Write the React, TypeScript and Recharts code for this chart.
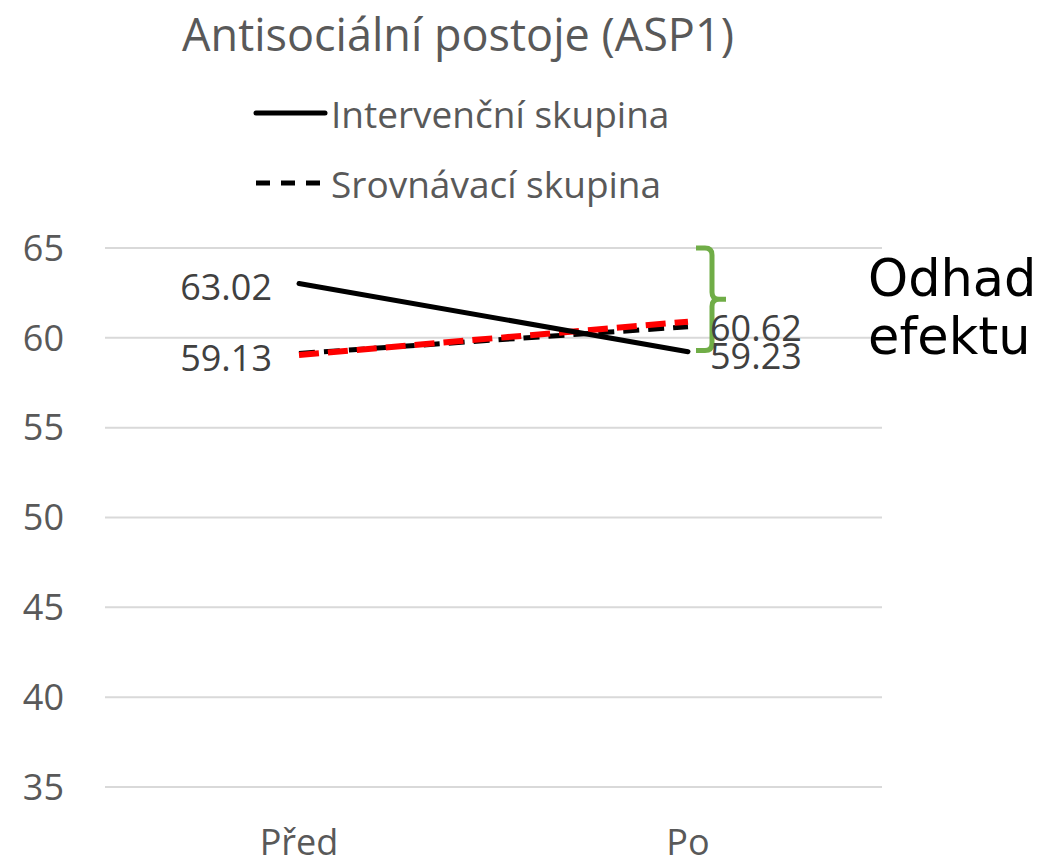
import React from 'react';
import { LineChart, Line, XAxis, YAxis, CartesianGrid, LabelList, ReferenceArea } from 'recharts';

const categories = ['Před', 'Po'];
const interventionValues = [63.02, 59.23];
const comparisonValues = [59.13, 60.62];
const projectedValues = [59.05, 60.9];
const yTicks = [35, 40, 45, 50, 55, 60, 65];
const bracketRange = [59.3, 65];
const seriesNames = ['Intervenční skupina', 'Srovnávací skupina'];

const data = categories.map((c, i) => ({
  cat: c,
  intervence: interventionValues[i],
  srovnani: comparisonValues[i],
  odhad: projectedValues[i],
}));

const FONT = '"Open Sans", sans-serif';

const makeLabel = (offsets: { dx: number; dy: number; anchor: 'start' | 'end' }[]) => (props: any) => {
  const { x, y, value, index } = props;
  const o = offsets[index];
  return (
    <text
      x={x + o.dx}
      y={y + o.dy}
      textAnchor={o.anchor}
      dominantBaseline="central"
      fontFamily={FONT}
      fontSize={36}
      fill="#404040"
    >
      {Number(value).toFixed(2)}
    </text>
  );
};

const solidLabel = makeLabel([
  { dx: -27, dy: 3, anchor: 'end' },
  { dx: 22, dy: 4, anchor: 'start' },
]);
const dashedLabel = makeLabel([
  { dx: -27, dy: 4, anchor: 'end' },
  { dx: 22, dy: 1, anchor: 'start' },
]);

const Bracket = (props: any) => {
  const { x, y, width, height } = props;
  const cx = x + (width || 0) / 2;
  const left = cx + 8;
  const vx = cx + 24;
  const top = y;
  const bottom = y + height;
  const mid = (top + bottom) / 2;
  const r = 7;
  const d = `M${left},${top} L${vx - r},${top} Q${vx},${top} ${vx},${top + r} L${vx},${mid - r} Q${vx},${mid} ${vx + r},${mid} L${vx + 14},${mid} M${vx + r},${mid} Q${vx},${mid} ${vx},${mid + r} L${vx},${bottom - r} Q${vx},${bottom} ${vx - r},${bottom} L${left},${bottom}`;
  return <path d={d} fill="none" stroke="#70AD47" strokeWidth={5} />;
};

export default function App() {
  return (
    <div style={{ position: 'absolute', left: 0, top: 0, width: 1054, height: 858, background: '#fff', overflow: 'hidden' }}>
      <LineChart
        width={1054}
        height={858}
        data={data}
        margin={{ top: 248, right: 172, bottom: 0, left: 0 }}
      >
        <CartesianGrid horizontal vertical={false} stroke="#d9d9d9" strokeWidth={2} />
        <XAxis
          dataKey="cat"
          axisLine={false}
          tickLine={false}
          tickSize={0}
          tickMargin={42}
          height={71}
          padding={{ left: 194, right: 194 }}
          tick={{ fontFamily: FONT, fontSize: 36, fill: '#595959' }}
        />
        <YAxis
          domain={[35, 65]}
          ticks={yTicks}
          axisLine={false}
          tickLine={false}
          tickSize={0}
          tickMargin={41}
          width={105}
          tick={{ fontFamily: FONT, fontSize: 36, fill: '#595959' }}
        />
        <ReferenceArea
          x1="Po"
          x2="Po"
          y1={bracketRange[0]}
          y2={bracketRange[1]}
          shape={Bracket}
          ifOverflow="visible"
        />
        <Line
          dataKey="srovnani"
          name={seriesNames[1]}
          stroke="#000"
          strokeWidth={5}
          strokeDasharray="16 9"
          dot={false}
          activeDot={false}
          isAnimationActive={false}
        >
          <LabelList dataKey="srovnani" content={dashedLabel} />
        </Line>
        <Line
          dataKey="odhad"
          name="odhad"
          legendType="none"
          stroke="#FF0000"
          strokeWidth={6}
          strokeDasharray="20 9"
          dot={false}
          activeDot={false}
          isAnimationActive={false}
        />
        <Line
          dataKey="intervence"
          name={seriesNames[0]}
          stroke="#000"
          strokeWidth={5}
          strokeLinecap="round"
          dot={false}
          activeDot={false}
          isAnimationActive={false}
        >
          <LabelList dataKey="intervence" content={solidLabel} />
        </Line>
      </LineChart>
      <div
        style={{
          position: 'absolute',
          left: 0,
          width: 916,
          top: 4,
          textAlign: 'center',
          fontFamily: FONT,
          fontSize: 45,
          color: '#595959',
          lineHeight: '60px',
          whiteSpace: 'nowrap',
        }}
      >
        Antisociální postoje (ASP1)
      </div>
      <div style={{ position: 'absolute', left: 251, top: 78, fontFamily: FONT }}>
        {seriesNames.map((name, i) => (
          <div key={i} style={{ display: 'flex', alignItems: 'center', height: 70, whiteSpace: 'nowrap' }}>
            <svg width={78} height={20}>
              <line
                x1={5}
                y1={10}
                x2={74}
                y2={10}
                stroke="#000"
                strokeWidth={5}
                strokeLinecap={i === 0 ? 'round' : 'butt'}
                strokeDasharray={i === 0 ? undefined : '14 11'}
              />
            </svg>
            <span style={{ fontSize: 37, color: '#595959', marginLeft: 2 }}>{name}</span>
          </div>
        ))}
      </div>
      <div
        style={{
          position: 'absolute',
          left: 868,
          top: 250,
          fontFamily: '"DejaVu Sans", sans-serif',
          fontSize: 51,
          color: '#000',
          lineHeight: '58px',
          whiteSpace: 'nowrap',
        }}
      >
        Odhad
        <br />
        efektu
      </div>
    </div>
  );
}
